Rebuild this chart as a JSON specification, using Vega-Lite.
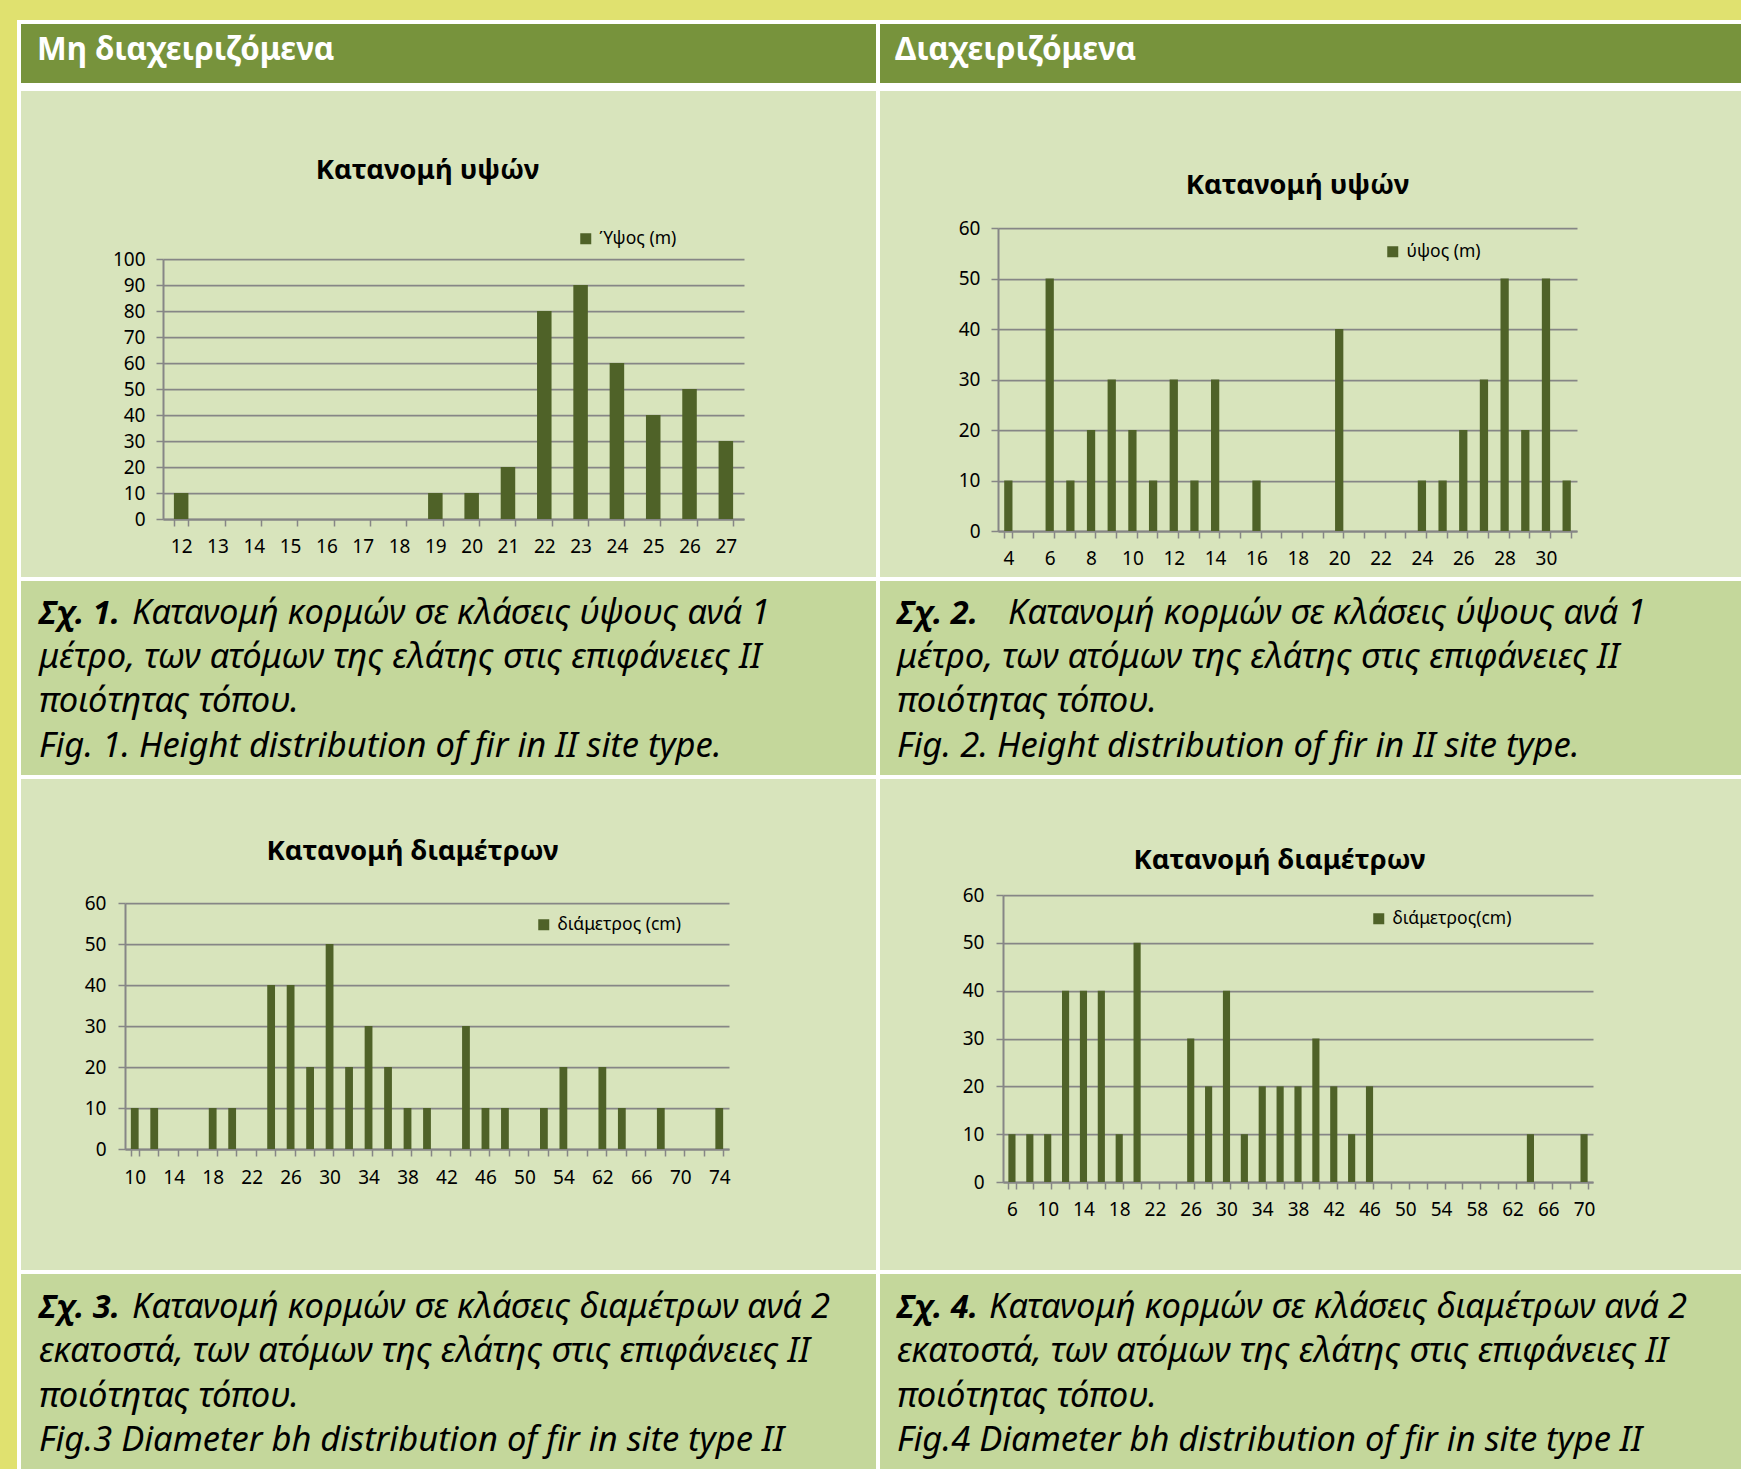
{
  "$schema": "https://vega.github.io/schema/vega-lite/v6.json",
  "background": "#E0E16F",
  "padding": {"left": 11, "top": 20, "right": -8, "bottom": -4},
  "config": {"font": "Noto Sans", "text": {"font": "Noto Sans"}, "title": {"font": "Noto Sans"}},
  "bounds": "flush",
  "columns": 2,
  "spacing": {"row": 0, "column": 0},
  "resolve": {"scale": {"color": "independent", "x": "independent", "y": "independent"}, "legend": {"color": "independent"}},
  "concat": [
    {
      "width": 859, "height": 67,
      "view": {"fill": "#77933C", "stroke": "white", "strokeWidth": 4},
      "data": {"values": [{"label": "Μη διαχειριζόμενα"}]},
      "encoding": {
        "y": {"datum": 0.5, "type": "quantitative", "scale": {"domain": [0, 1], "nice": false}, "axis": null}
      },
      "layer": [
        {
          "mark": {"type": "text", "align": "left", "baseline": "middle", "dx": 18, "dy": -5, "fontSize": 31.5, "fontWeight": "bold", "color": "white"},
          "encoding": {
            "x": {"datum": 0, "type": "quantitative", "scale": {"domain": [0, 1], "nice": false}, "axis": null},
            "text": {"field": "label"}
          }
        },
        {
          "mark": {"type": "rule", "color": "white", "strokeWidth": 12},
          "encoding": {"y": {"datum": 0, "type": "quantitative"}}
        }
      ]
    },
    {
      "width": 867, "height": 67,
      "view": {"fill": "#77933C", "stroke": "white", "strokeWidth": 4},
      "data": {"values": [{"label": "Διαχειριζόμενα"}]},
      "encoding": {
        "y": {"datum": 0.5, "type": "quantitative", "scale": {"domain": [0, 1], "nice": false}, "axis": null}
      },
      "layer": [
        {
          "mark": {"type": "text", "align": "left", "baseline": "middle", "dx": 17, "dy": -5, "fontSize": 31.5, "fontWeight": "bold", "color": "white"},
          "encoding": {
            "x": {"datum": 0, "type": "quantitative", "scale": {"domain": [0, 1], "nice": false}, "axis": null},
            "text": {"field": "label"}
          }
        },
        {
          "mark": {"type": "rule", "color": "white", "strokeWidth": 12},
          "encoding": {"y": {"datum": 0, "type": "quantitative"}}
        }
      ]
    },
    {
      "width": 859, "height": 490,
      "view": {"fill": "#D8E4BC", "stroke": "white", "strokeWidth": 4},
      "title": {"text": "Κατανομή υψών", "fontSize": 27.5, "fontWeight": "bold", "color": "black", "anchor": "middle", "frame": "group", "offset": 0, "dx": -21, "dy": 95},
      "data": {"values": [
        {"cls": "12", "n": 10}, {"cls": "13", "n": 0}, {"cls": "14", "n": 0}, {"cls": "15", "n": 0},
        {"cls": "16", "n": 0}, {"cls": "17", "n": 0}, {"cls": "18", "n": 0}, {"cls": "19", "n": 10},
        {"cls": "20", "n": 10}, {"cls": "21", "n": 20}, {"cls": "22", "n": 80}, {"cls": "23", "n": 90},
        {"cls": "24", "n": 60}, {"cls": "25", "n": 40}, {"cls": "26", "n": 50}, {"cls": "27", "n": 30}
      ]},
      "mark": {"type": "bar"},
      "encoding": {
        "x": {"field": "cls", "type": "ordinal", "sort": null,
          "scale": {"range": [144, 725], "paddingInner": 0.6, "paddingOuter": 0.3},
          "axis": {"title": null, "orient": "bottom", "offset": -60, "tickBand": "extent", "tickSize": 7, "tickColor": "#868686", "tickWidth": 1.5, "domainColor": "#868686", "domainWidth": 2, "labelFontSize": 19, "labelColor": "black", "labelPadding": 11, "labelAngle": 0, "grid": false}},
        "y": {"field": "n", "type": "quantitative",
          "scale": {"domain": [0, 100], "range": [430, 170], "nice": false},
          "axis": {"title": null, "orient": "left", "offset": -144, "values": [0, 10, 20, 30, 40, 50, 60, 70, 80, 90, 100], "grid": true, "gridColor": "#868686", "gridWidth": 1.75, "tickSize": 7, "tickColor": "#868686", "tickWidth": 1.5, "domainColor": "#868686", "domainWidth": 2, "labelFontSize": 19, "labelColor": "black", "labelPadding": 11}},
        "color": {"datum": "Ύψος (m)", "type": "nominal", "scale": {"range": ["#4F6228"]},
          "legend": {"orient": "none", "legendX": 558, "legendY": 141, "title": null, "symbolType": "square", "symbolSize": 121, "symbolStrokeWidth": 0, "labelFontSize": 17.5, "labelColor": "black", "labelOffset": 5, "padding": 0}}
      }
    },
    {
      "width": 867, "height": 490,
      "view": {"fill": "#D8E4BC", "stroke": "white", "strokeWidth": 4},
      "title": {"text": "Κατανομή υψών", "fontSize": 27.5, "fontWeight": "bold", "color": "black", "anchor": "middle", "frame": "group", "offset": 0, "dx": -14, "dy": 110},
      "data": {"values": [
        {"cls": "4", "n": 10}, {"cls": "5", "n": 0}, {"cls": "6", "n": 50}, {"cls": "7", "n": 10},
        {"cls": "8", "n": 20}, {"cls": "9", "n": 30}, {"cls": "10", "n": 20}, {"cls": "11", "n": 10},
        {"cls": "12", "n": 30}, {"cls": "13", "n": 10}, {"cls": "14", "n": 30}, {"cls": "15", "n": 0},
        {"cls": "16", "n": 10}, {"cls": "17", "n": 0}, {"cls": "18", "n": 0}, {"cls": "19", "n": 0},
        {"cls": "20", "n": 40}, {"cls": "21", "n": 0}, {"cls": "22", "n": 0}, {"cls": "23", "n": 0},
        {"cls": "24", "n": 10}, {"cls": "25", "n": 10}, {"cls": "26", "n": 20}, {"cls": "27", "n": 30},
        {"cls": "28", "n": 50}, {"cls": "29", "n": 20}, {"cls": "30", "n": 50}, {"cls": "31", "n": 10}
      ]},
      "mark": {"type": "bar"},
      "encoding": {
        "x": {"field": "cls", "type": "ordinal", "sort": null,
          "scale": {"range": [120, 699], "paddingInner": 0.6, "paddingOuter": 0.3},
          "axis": {"title": null, "orient": "bottom", "offset": -48, "tickBand": "extent", "tickSize": 7, "tickColor": "#868686", "tickWidth": 1.5, "domainColor": "#868686", "domainWidth": 2, "labelFontSize": 19, "labelColor": "black", "labelPadding": 11, "labelAngle": 0, "grid": false,
            "labelExpr": "toNumber(datum.value) % 2 == 0 ? datum.label : ''"}},
        "y": {"field": "n", "type": "quantitative",
          "scale": {"domain": [0, 60], "range": [442, 139], "nice": false},
          "axis": {"title": null, "orient": "left", "offset": -120, "values": [0, 10, 20, 30, 40, 50, 60], "grid": true, "gridColor": "#868686", "gridWidth": 1.75, "tickSize": 7, "tickColor": "#868686", "tickWidth": 1.5, "domainColor": "#868686", "domainWidth": 2, "labelFontSize": 19, "labelColor": "black", "labelPadding": 11}},
        "color": {"datum": "ύψος (m)", "type": "nominal", "scale": {"range": ["#4F6228"]},
          "legend": {"orient": "none", "legendX": 506, "legendY": 154, "title": null, "symbolType": "square", "symbolSize": 121, "symbolStrokeWidth": 0, "labelFontSize": 17.5, "labelColor": "black", "labelOffset": 5, "padding": 0}}
      }
    },
    {
      "width": 859, "height": 198,
      "view": {"fill": "#C4D79B", "stroke": "white", "strokeWidth": 4},
      "data": {"values": [
        {"line": 1, "lead": "Σχ. 1.", "text": "Κατανομή κορμών σε κλάσεις ύψους ανά 1"},
        {"line": 2, "text": "μέτρο, των ατόμων της ελάτης στις επιφάνειες ΙΙ"},
        {"line": 3, "text": "ποιότητας τόπου."},
        {"line": 4, "text": "Fig. 1. Height distribution of fir in II site type."}
      ]},
      "encoding": {
        "x": {"datum": 0, "type": "quantitative", "scale": {"domain": [0, 1], "nice": false}, "axis": null},
        "y": {"field": "line", "type": "quantitative", "scale": {"domain": [0.22, 4.68], "reverse": true, "nice": false, "zero": false}, "axis": null}
      },
      "layer": [
        {"transform": [{"filter": "datum.line == 1"}], "mark": {"type": "text", "align": "left", "baseline": "middle", "dx": 20, "fontSize": 32.5, "fontStyle": "italic", "fontWeight": "bold", "color": "black"}, "encoding": {"text": {"field": "lead"}}},
        {"transform": [{"filter": "datum.line == 1"}], "mark": {"type": "text", "align": "left", "baseline": "middle", "dx": 113, "fontSize": 34.5, "fontStyle": "italic", "color": "black"}, "encoding": {"text": {"field": "text"}}},
        {"transform": [{"filter": "datum.line > 1"}], "mark": {"type": "text", "align": "left", "baseline": "middle", "dx": 20, "fontSize": 34.5, "fontStyle": "italic", "color": "black"}, "encoding": {"text": {"field": "text"}}}
      ]
    },
    {
      "width": 867, "height": 198,
      "view": {"fill": "#C4D79B", "stroke": "white", "strokeWidth": 4},
      "data": {"values": [
        {"line": 1, "lead": "Σχ. 2.", "text": "Κατανομή κορμών σε κλάσεις ύψους ανά 1"},
        {"line": 2, "text": "μέτρο, των ατόμων της ελάτης στις επιφάνειες ΙΙ"},
        {"line": 3, "text": "ποιότητας τόπου."},
        {"line": 4, "text": "Fig. 2. Height distribution of fir in II site type."}
      ]},
      "encoding": {
        "x": {"datum": 0, "type": "quantitative", "scale": {"domain": [0, 1], "nice": false}, "axis": null},
        "y": {"field": "line", "type": "quantitative", "scale": {"domain": [0.22, 4.68], "reverse": true, "nice": false, "zero": false}, "axis": null}
      },
      "layer": [
        {"transform": [{"filter": "datum.line == 1"}], "mark": {"type": "text", "align": "left", "baseline": "middle", "dx": 19, "fontSize": 32.5, "fontStyle": "italic", "fontWeight": "bold", "color": "black"}, "encoding": {"text": {"field": "lead"}}},
        {"transform": [{"filter": "datum.line == 1"}], "mark": {"type": "text", "align": "left", "baseline": "middle", "dx": 130, "fontSize": 34.5, "fontStyle": "italic", "color": "black"}, "encoding": {"text": {"field": "text"}}},
        {"transform": [{"filter": "datum.line > 1"}], "mark": {"type": "text", "align": "left", "baseline": "middle", "dx": 19, "fontSize": 34.5, "fontStyle": "italic", "color": "black"}, "encoding": {"text": {"field": "text"}}}
      ]
    },
    {
      "width": 859, "height": 495,
      "view": {"fill": "#D8E4BC", "stroke": "white", "strokeWidth": 4},
      "title": {"text": "Κατανομή διαμέτρων", "fontSize": 27.5, "fontWeight": "bold", "color": "black", "anchor": "middle", "frame": "group", "offset": 0, "dx": -36, "dy": 88},
      "data": {"values": [
        {"cls": "10", "n": 10}, {"cls": "12", "n": 10}, {"cls": "14", "n": 0}, {"cls": "16", "n": 0},
        {"cls": "18", "n": 10}, {"cls": "20", "n": 10}, {"cls": "22", "n": 0}, {"cls": "24", "n": 40},
        {"cls": "26", "n": 40}, {"cls": "28", "n": 20}, {"cls": "30", "n": 50}, {"cls": "32", "n": 20},
        {"cls": "34", "n": 30}, {"cls": "36", "n": 20}, {"cls": "38", "n": 10}, {"cls": "40", "n": 10},
        {"cls": "42", "n": 0}, {"cls": "44", "n": 30}, {"cls": "46", "n": 10}, {"cls": "48", "n": 10},
        {"cls": "50", "n": 0}, {"cls": "52", "n": 10}, {"cls": "54", "n": 20}, {"cls": "58", "n": 0},
        {"cls": "62", "n": 20}, {"cls": "64", "n": 10}, {"cls": "66", "n": 0}, {"cls": "68", "n": 10},
        {"cls": "70", "n": 0}, {"cls": "72", "n": 0}, {"cls": "74", "n": 10}
      ]},
      "mark": {"type": "bar"},
      "encoding": {
        "x": {"field": "cls", "type": "ordinal", "sort": null,
          "scale": {"range": [106, 710], "paddingInner": 0.6, "paddingOuter": 0.3},
          "axis": {"title": null, "orient": "bottom", "offset": -123, "tickBand": "extent", "tickSize": 7, "tickColor": "#868686", "tickWidth": 1.5, "domainColor": "#868686", "domainWidth": 2, "labelFontSize": 19, "labelColor": "black", "labelPadding": 12, "labelAngle": 0, "grid": false,
            "labelExpr": "indexof(['10','14','18','22','26','30','34','38','42','46','50','54','62','66','70','74'], datum.value) >= 0 ? datum.label : ''"}},
        "y": {"field": "n", "type": "quantitative",
          "scale": {"domain": [0, 60], "range": [372, 126], "nice": false},
          "axis": {"title": null, "orient": "left", "offset": -106, "values": [0, 10, 20, 30, 40, 50, 60], "grid": true, "gridColor": "#868686", "gridWidth": 1.75, "tickSize": 7, "tickColor": "#868686", "tickWidth": 1.5, "domainColor": "#868686", "domainWidth": 2, "labelFontSize": 19, "labelColor": "black", "labelPadding": 12}},
        "color": {"datum": "διάμετρος (cm)", "type": "nominal", "scale": {"range": ["#4F6228"]},
          "legend": {"orient": "none", "legendX": 516, "legendY": 139, "title": null, "symbolType": "square", "symbolSize": 121, "symbolStrokeWidth": 0, "labelFontSize": 17.5, "labelColor": "black", "labelOffset": 5, "padding": 0}}
      }
    },
    {
      "width": 867, "height": 495,
      "view": {"fill": "#D8E4BC", "stroke": "white", "strokeWidth": 4},
      "title": {"text": "Κατανομή διαμέτρων", "fontSize": 27.5, "fontWeight": "bold", "color": "black", "anchor": "middle", "frame": "group", "offset": 0, "dx": -32, "dy": 97},
      "data": {"values": [
        {"cls": "6", "n": 10}, {"cls": "8", "n": 10}, {"cls": "10", "n": 10}, {"cls": "12", "n": 40},
        {"cls": "14", "n": 40}, {"cls": "16", "n": 40}, {"cls": "18", "n": 10}, {"cls": "20", "n": 50},
        {"cls": "22", "n": 0}, {"cls": "24", "n": 0}, {"cls": "26", "n": 30}, {"cls": "28", "n": 20},
        {"cls": "30", "n": 40}, {"cls": "32", "n": 10}, {"cls": "34", "n": 20}, {"cls": "36", "n": 20},
        {"cls": "38", "n": 20}, {"cls": "40", "n": 30}, {"cls": "42", "n": 20}, {"cls": "44", "n": 10},
        {"cls": "46", "n": 20}, {"cls": "48", "n": 0}, {"cls": "50", "n": 0}, {"cls": "52", "n": 0},
        {"cls": "54", "n": 0}, {"cls": "56", "n": 0}, {"cls": "58", "n": 0}, {"cls": "60", "n": 0},
        {"cls": "62", "n": 0}, {"cls": "64", "n": 10}, {"cls": "66", "n": 0}, {"cls": "68", "n": 0},
        {"cls": "70", "n": 10}
      ]},
      "mark": {"type": "bar"},
      "encoding": {
        "x": {"field": "cls", "type": "ordinal", "sort": null,
          "scale": {"range": [125, 715], "paddingInner": 0.6, "paddingOuter": 0.3},
          "axis": {"title": null, "orient": "bottom", "offset": -90, "tickBand": "extent", "tickSize": 7, "tickColor": "#868686", "tickWidth": 1.5, "domainColor": "#868686", "domainWidth": 2, "labelFontSize": 19, "labelColor": "black", "labelPadding": 11, "labelAngle": 0, "grid": false,
            "labelExpr": "toNumber(datum.value) % 4 == 2 ? datum.label : ''"}},
        "y": {"field": "n", "type": "quantitative",
          "scale": {"domain": [0, 60], "range": [405, 118], "nice": false},
          "axis": {"title": null, "orient": "left", "offset": -125, "values": [0, 10, 20, 30, 40, 50, 60], "grid": true, "gridColor": "#868686", "gridWidth": 1.75, "tickSize": 7, "tickColor": "#868686", "tickWidth": 1.5, "domainColor": "#868686", "domainWidth": 2, "labelFontSize": 19, "labelColor": "black", "labelPadding": 12}},
        "color": {"datum": "διάμετρος(cm)", "type": "nominal", "scale": {"range": ["#4F6228"]},
          "legend": {"orient": "none", "legendX": 492, "legendY": 133, "title": null, "symbolType": "square", "symbolSize": 121, "symbolStrokeWidth": 0, "labelFontSize": 17.5, "labelColor": "black", "labelOffset": 5, "padding": 0}}
      }
    },
    {
      "width": 859, "height": 199,
      "view": {"fill": "#C4D79B", "stroke": "white", "strokeWidth": 4},
      "data": {"values": [
        {"line": 1, "lead": "Σχ. 3.", "text": "Κατανομή κορμών σε κλάσεις διαμέτρων ανά 2"},
        {"line": 2, "text": "εκατοστά, των ατόμων της ελάτης στις επιφάνειες ΙΙ"},
        {"line": 3, "text": "ποιότητας τόπου."},
        {"line": 4, "text": "Fig.3 Diameter bh distribution of fir in site type II"}
      ]},
      "encoding": {
        "x": {"datum": 0, "type": "quantitative", "scale": {"domain": [0, 1], "nice": false}, "axis": null},
        "y": {"field": "line", "type": "quantitative", "scale": {"domain": [0.19, 4.68], "reverse": true, "nice": false, "zero": false}, "axis": null}
      },
      "layer": [
        {"transform": [{"filter": "datum.line == 1"}], "mark": {"type": "text", "align": "left", "baseline": "middle", "dx": 20, "fontSize": 32.5, "fontStyle": "italic", "fontWeight": "bold", "color": "black"}, "encoding": {"text": {"field": "lead"}}},
        {"transform": [{"filter": "datum.line == 1"}], "mark": {"type": "text", "align": "left", "baseline": "middle", "dx": 113, "fontSize": 34.5, "fontStyle": "italic", "color": "black"}, "encoding": {"text": {"field": "text"}}},
        {"transform": [{"filter": "datum.line > 1"}], "mark": {"type": "text", "align": "left", "baseline": "middle", "dx": 20, "fontSize": 34.5, "fontStyle": "italic", "color": "black"}, "encoding": {"text": {"field": "text"}}}
      ]
    },
    {
      "width": 867, "height": 199,
      "view": {"fill": "#C4D79B", "stroke": "white", "strokeWidth": 4},
      "data": {"values": [
        {"line": 1, "lead": "Σχ. 4.", "text": "Κατανομή κορμών σε κλάσεις διαμέτρων ανά 2"},
        {"line": 2, "text": "εκατοστά, των ατόμων της ελάτης στις επιφάνειες ΙΙ"},
        {"line": 3, "text": "ποιότητας τόπου."},
        {"line": 4, "text": "Fig.4 Diameter bh distribution of fir in site type II"}
      ]},
      "encoding": {
        "x": {"datum": 0, "type": "quantitative", "scale": {"domain": [0, 1], "nice": false}, "axis": null},
        "y": {"field": "line", "type": "quantitative", "scale": {"domain": [0.19, 4.68], "reverse": true, "nice": false, "zero": false}, "axis": null}
      },
      "layer": [
        {"transform": [{"filter": "datum.line == 1"}], "mark": {"type": "text", "align": "left", "baseline": "middle", "dx": 19, "fontSize": 32.5, "fontStyle": "italic", "fontWeight": "bold", "color": "black"}, "encoding": {"text": {"field": "lead"}}},
        {"transform": [{"filter": "datum.line == 1"}], "mark": {"type": "text", "align": "left", "baseline": "middle", "dx": 111, "fontSize": 34.5, "fontStyle": "italic", "color": "black"}, "encoding": {"text": {"field": "text"}}},
        {"transform": [{"filter": "datum.line > 1"}], "mark": {"type": "text", "align": "left", "baseline": "middle", "dx": 19, "fontSize": 34.5, "fontStyle": "italic", "color": "black"}, "encoding": {"text": {"field": "text"}}}
      ]
    }
  ]
}
